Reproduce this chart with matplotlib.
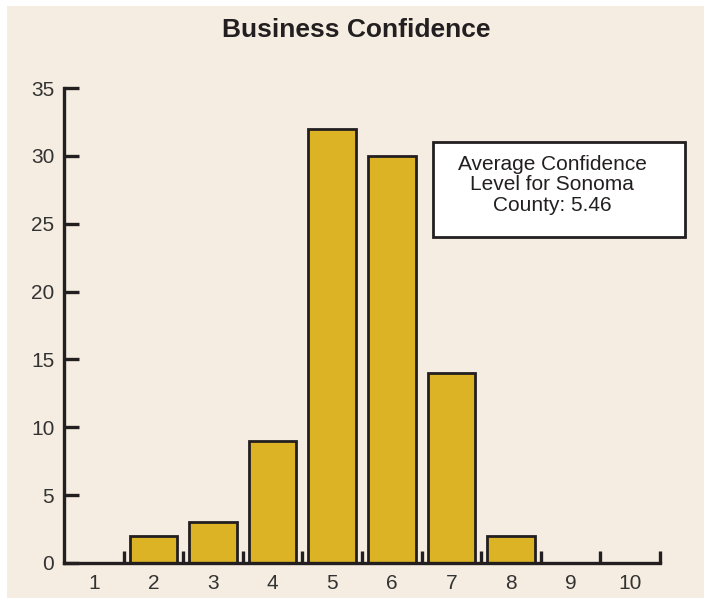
import matplotlib
matplotlib.use("Agg")
import matplotlib.pyplot as plt
from matplotlib.patches import Rectangle

categories = [1, 2, 3, 4, 5, 6, 7, 8, 9, 10]
counts = [0, 2, 3, 9, 32, 30, 14, 2, 0, 0]
yticks = [0, 5, 10, 15, 20, 25, 30, 35]
title = "Business Confidence"
note = "Average Confidence\nLevel for Sonoma\nCounty: 5.46"

plt.rcParams['font.family'] = ['Liberation Sans', 'DejaVu Sans']

bg = '#F5EDE1'
bar_color = '#DBB324'
ink = '#231F20'

fig = plt.figure(figsize=(7.07, 6.0), dpi=100)
fig.patch.set_facecolor('white')
fig.patches.append(Rectangle((7/707, 2/600), 697/707, 592/600, transform=fig.transFigure,
                             facecolor=bg, edgecolor='none', zorder=-10))

ax = fig.add_axes([64/707, 37/600, 596/707, 475/600])
ax.set_facecolor('none')

nonzero = [(c, v) for c, v in zip(categories, counts) if v > 0]
ax.bar([c for c, _ in nonzero], [v for _, v in nonzero], width=0.8,
       color=bar_color, edgecolor=ink, linewidth=2.0, zorder=3)

ax.set_xlim(0.5, 10.5)
ax.set_ylim(0, 35)

for s in ['top', 'right']:
    ax.spines[s].set_visible(False)
for s in ['left', 'bottom']:
    ax.spines[s].set_linewidth(2.4)
    ax.spines[s].set_color(ink)
    ax.spines[s].set_zorder(4)

ax.set_yticks(yticks)
ax.set_yticklabels([str(t) for t in yticks])
ax.tick_params(axis='y', direction='in', length=11, width=2.4, color=ink,
               labelsize=15, labelcolor='#333333', pad=7)

ax.set_xticks(categories)
ax.set_xticklabels([str(c) for c in categories])
ax.tick_params(axis='x', which='major', length=0, labelsize=15,
               labelcolor='#333333', pad=8)
ax.set_xticks([c + 0.5 for c in categories], minor=True)
ax.tick_params(axis='x', which='minor', direction='in', length=9, width=2.4, color=ink)

fig.text(356/707, 1 - 30/600, title, ha='center', va='center',
         fontsize=19, fontweight='bold', color=ink)

fig.patches.append(Rectangle((433/707, 1 - 237/600), 252/707, 95/600,
                             transform=fig.transFigure, facecolor='white',
                             edgecolor=ink, linewidth=2.0, zorder=5))
fig.text(552/707, 1 - 185/600, note, ha='center', va='center', fontsize=15,
         color=ink, linespacing=1.1, zorder=6)

fig.savefig('out.png', dpi=100)
